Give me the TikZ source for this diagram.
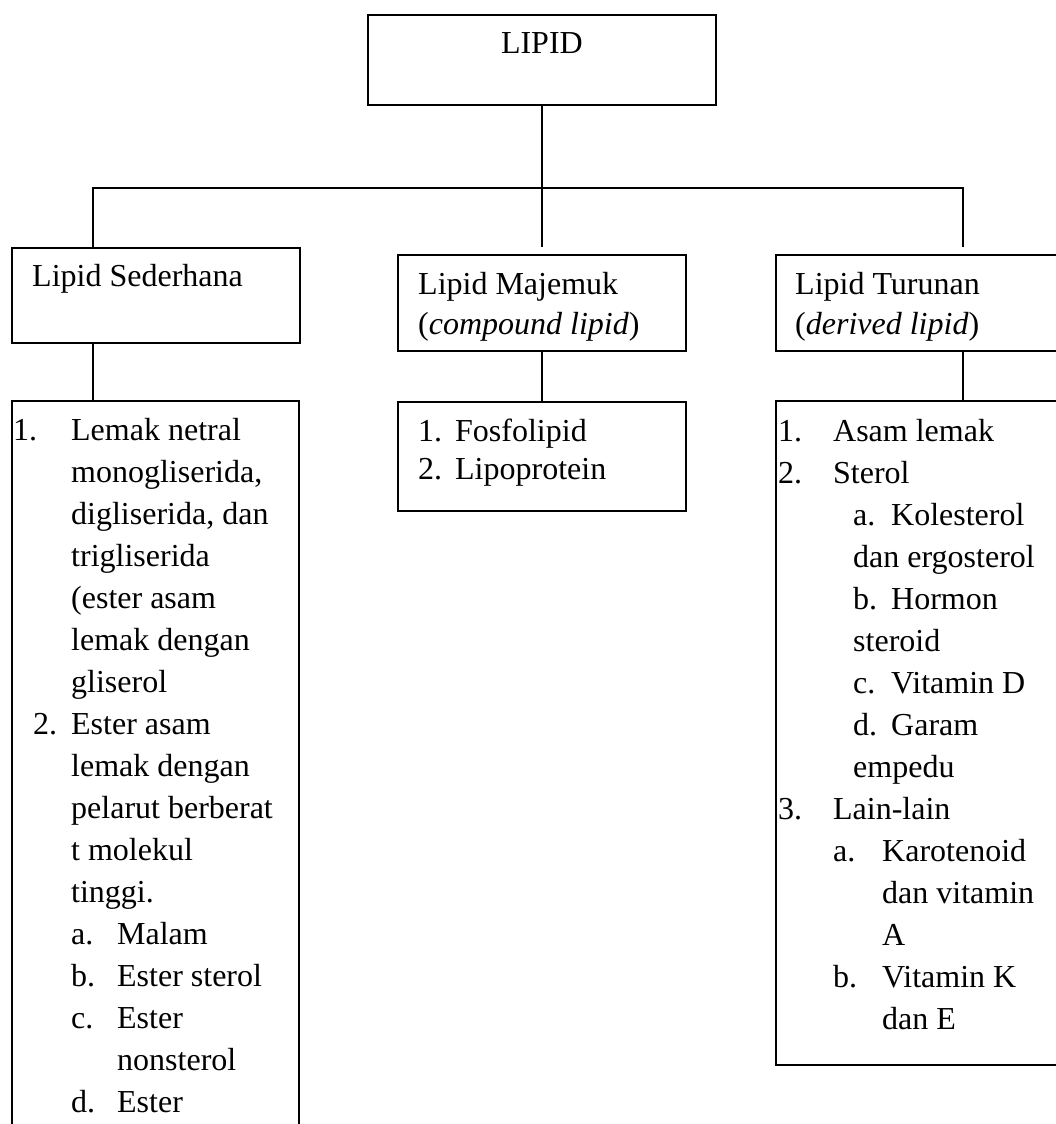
\documentclass[tikz,border=0pt]{standalone}
\usepackage{fontspec}
\setmainfont{Liberation Serif}

% hanging label: indent, label width, label
\newcommand{\itemlbl}[3]{\hspace*{#1pt}\makebox[#2pt][l]{#3}}

\begin{document}
\begin{tikzpicture}[
    x=1pt, y=-1pt,
    box/.style={draw, line width=1.8pt, inner sep=0pt, anchor=north west},
    line/.style={line width=1.8pt},
    head/.style={inner sep=0pt, anchor=base west, align=left, font=\fontsize{32}{40}\selectfont},
    items/.style={inner sep=0pt, anchor=base west, align=left, font=\fontsize{32}{42}\selectfont}
]
    \useasboundingbox (0,0) rectangle (1056,1124);
    \clip (0,0) rectangle (1056,1124);

    % Root
    \node[box, minimum width=348pt, minimum height=90pt] (lipid) at (367,14) {};
    \node[head, anchor=base] (lipidtext) at ([yshift=-39pt]lipid.north) {LIPID};

    % Three groups (text nodes sit on the baseline of their last line)
    \node[box, minimum width=288pt, minimum height=95pt] (sederhana) at (11,247) {};
    \node[head] (sederhanatext) at ([xshift=21pt,yshift=-39pt]sederhana.north west) {Lipid Sederhana};

    \node[box, minimum width=288pt, minimum height=96pt] (majemuk) at (397,254) {};
    \node[head] (majemuktext) at ([xshift=21pt,yshift=-80pt]majemuk.north west)
        {Lipid Majemuk\\(\textit{compound lipid})};

    \node[box, minimum width=300pt, minimum height=96pt] (turunan) at (775,254) {};
    \node[head] (turunantext) at ([xshift=20pt,yshift=-80pt]turunan.north west)
        {Lipid Turunan\\(\textit{derived lipid})};

    % Lists
    \node[box, minimum width=287pt, minimum height=760pt] (sederhanalist) at (11,400) {};
    \node[items] (sederhanaitems) at ([xshift=2pt,yshift=-712pt]sederhanalist.north west) {%
        \itemlbl{0}{58}{1.}Lemak netral\\
        \itemlbl{58}{0}{}monogliserida,\\
        \itemlbl{58}{0}{}digliserida, dan\\
        \itemlbl{58}{0}{}trigliserida\\
        \itemlbl{58}{0}{}(ester asam\\
        \itemlbl{58}{0}{}lemak dengan\\
        \itemlbl{58}{0}{}gliserol\\
        \itemlbl{20}{38}{2.}Ester asam\\
        \itemlbl{58}{0}{}lemak dengan\\
        \itemlbl{58}{0}{}pelarut berberat\\
        \itemlbl{58}{0}{}t molekul\\
        \itemlbl{58}{0}{}tinggi.\\
        \itemlbl{58}{46}{a.}Malam\\
        \itemlbl{58}{46}{b.}Ester sterol\\
        \itemlbl{58}{46}{c.}Ester\\
        \itemlbl{104}{0}{}nonsterol\\
        \itemlbl{58}{46}{d.}Ester};

    \node[box, minimum width=288pt, minimum height=109pt] (majemuklist) at (397,401) {};
    \node[items, font=\fontsize{32}{38}\selectfont] (majemukitems)
        at ([xshift=21pt,yshift=-78pt]majemuklist.north west) {%
        \itemlbl{0}{37}{1.}Fosfolipid\\
        \itemlbl{0}{37}{2.}Lipoprotein};

    \node[box, minimum width=300pt, minimum height=664pt] (turunanlist) at (775,400) {};
    \node[items] (turunanitems) at ([xshift=3pt,yshift=-629pt]turunanlist.north west) {%
        \itemlbl{0}{55}{1.}Asam lemak\\
        \itemlbl{0}{55}{2.}Sterol\\
        \itemlbl{75}{38}{a.}Kolesterol\\
        \itemlbl{75}{0}{}dan ergosterol\\
        \itemlbl{75}{38}{b.}Hormon\\
        \itemlbl{75}{0}{}steroid\\
        \itemlbl{75}{38}{c.}Vitamin D\\
        \itemlbl{75}{38}{d.}Garam\\
        \itemlbl{75}{0}{}empedu\\
        \itemlbl{0}{55}{3.}Lain-lain\\
        \itemlbl{55}{49}{a.}Karotenoid\\
        \itemlbl{104}{0}{}dan vitamin\\
        \itemlbl{104}{0}{}A\\
        \itemlbl{55}{49}{b.}Vitamin K\\
        \itemlbl{104}{0}{}dan E};

    % Connectors
    \coordinate (jl) at (93,188);
    \coordinate (jr) at (963,188);
    \draw[line] (lipid.south) -- (lipid.south |- jl);
    \draw[line] (sederhana.north -| jl) -- (jl) -- (jr) -- ([yshift=7pt]turunan.north -| jr);
    \draw[line] (lipid.south |- jl) -- ([yshift=7pt]majemuk.north);
    \draw[line] (sederhana.south -| jl) -- (sederhanalist.north -| jl);
    \draw[line] (majemuk.south) -- (majemuklist.north);
    \draw[line] (turunan.south -| jr) -- (turunanlist.north -| jr);
\end{tikzpicture}
\end{document}
